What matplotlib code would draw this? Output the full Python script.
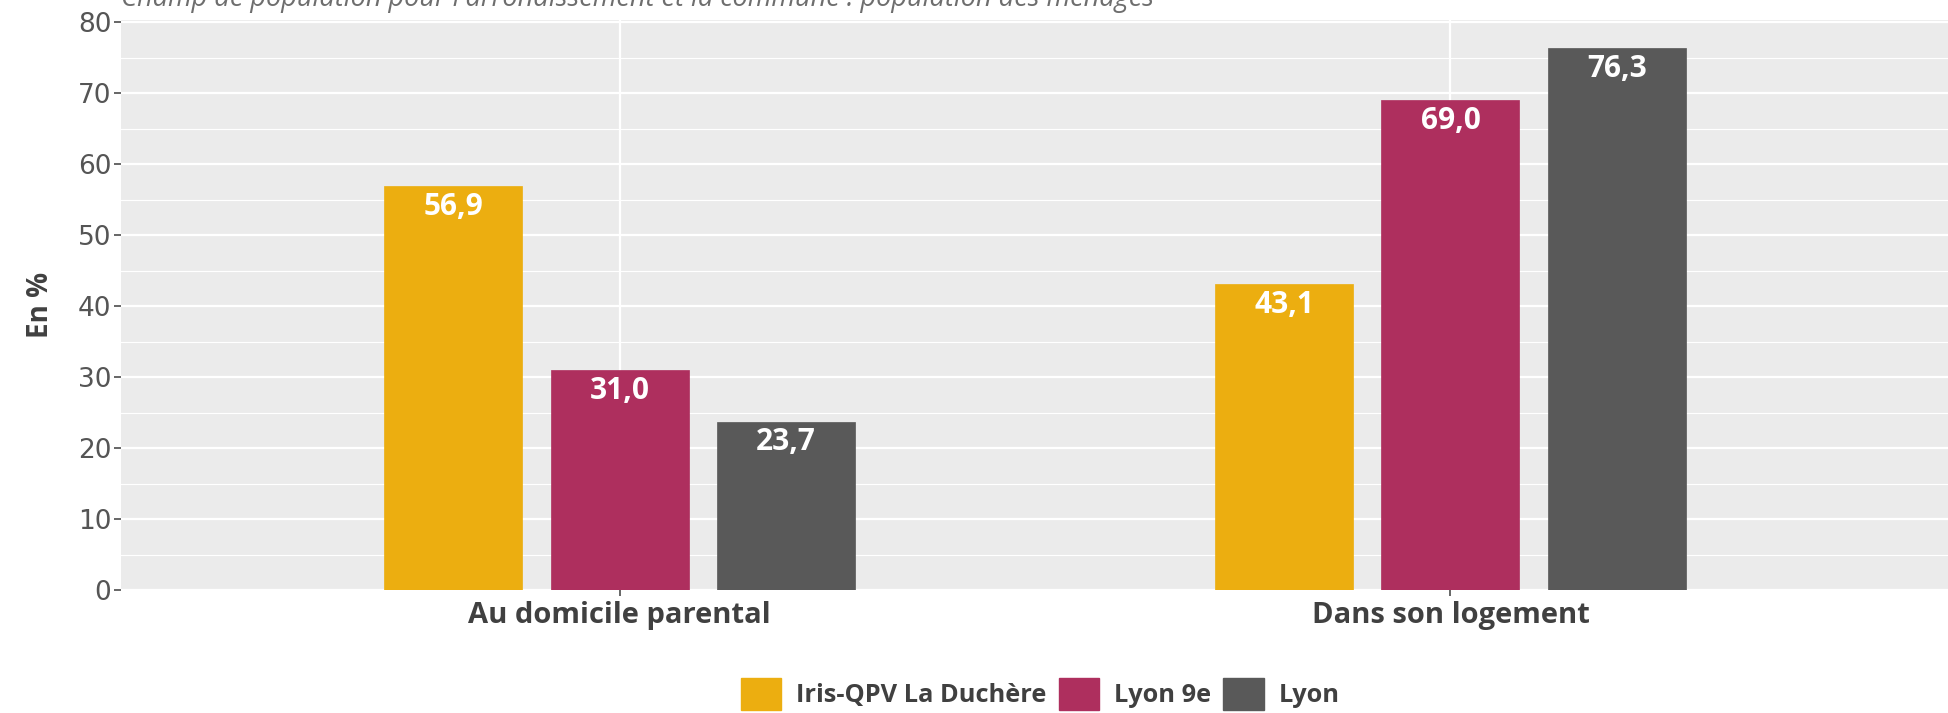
import matplotlib
matplotlib.use("Agg")
import matplotlib.pyplot as plt
from matplotlib.patches import Patch
import numpy as np

# Data
categories = ["Au domicile parental", "Dans son logement"]
series_names = ["Iris-QPV La Duchère", "Lyon 9e", "Lyon"]
duchere = [56.9, 43.1]
lyon9 = [31.0, 69.0]
lyon = [23.7, 76.3]
yticks = [0, 10, 20, 30, 40, 50, 60, 70, 80]

colors = ["#ECAE10", "#AE2F5E", "#595959"]
caption = "Champ de population pour l'arrondissement et la commune : population des ménages"

W, H = 1949, 713
fig = plt.figure(figsize=(W / 100, H / 100), dpi=100)
ax = fig.add_axes([121 / W, (H - 590) / H, 1 - 121 / W, (590 - 20) / H])
ax.set_facecolor("#EBEBEB")

x = np.arange(1, len(categories) + 1)
offsets = [-0.2, 0.0, 0.2]
bar_w = 0.166
for vals, off, col in zip([duchere, lyon9, lyon], offsets, colors):
    bars = ax.bar(x + off, vals, width=bar_w, color=col, edgecolor=col, linewidth=0.5, zorder=3)
    for b, v in zip(bars, vals):
        ax.annotate(f"{v:.1f}".replace(".", ","), (b.get_x() + b.get_width() / 2, v),
                    xytext=(0, -4), textcoords="offset points", ha="center", va="top",
                    color="white", fontsize=21.5, fontweight="bold", family="Open Sans", zorder=4)

ax.set_xlim(0.4, 2.6)
ax.set_ylim(0, 80.3)
ax.set_yticks(yticks)
ax.set_yticks(np.arange(5, 80, 10), minor=True)
ax.set_xticks(x)
ax.set_xticklabels(categories, fontsize=21, fontweight="bold", family="Open Sans", color="#404040")
ax.tick_params(axis="y", which="major", labelsize=19, labelcolor="#555555", color="#4D4D4D",
               length=5, width=1.2, pad=2)
ax.tick_params(axis="y", which="minor", length=0)
ax.tick_params(axis="x", length=4, width=1.2, color="#4D4D4D", pad=4)

ax.grid(True, which="major", color="white", linewidth=1.6, zorder=0)
ax.grid(True, which="minor", axis="y", color="white", linewidth=0.8, zorder=0)
ax.set_axisbelow(True)
for s in ax.spines.values():
    s.set_visible(False)

fig.text(41 / W, (H - 305) / H, "En %", rotation=90, ha="center", va="center",
         fontsize=20, fontweight="bold", family="Open Sans", color="#404040")

fig.text(121 / W, (H - 6) / H, caption, ha="left", va="baseline", fontsize=19.5,
         style="italic", family="Open Sans", color="#6E6E6E")

handles = [Patch(facecolor=c, edgecolor=c) for c in colors]
fig.legend(handles, series_names, loc="center", bbox_to_anchor=(1040 / W, (H - 694) / H),
           ncol=3, frameon=False, prop={"family": "Open Sans", "weight": "bold", "size": 18.3},
           handlelength=1.6, handleheight=1.6, handletextpad=0.56, columnspacing=0.5,
           labelcolor="#404040", borderpad=0, borderaxespad=0)

fig.savefig("out.png", dpi=100)
